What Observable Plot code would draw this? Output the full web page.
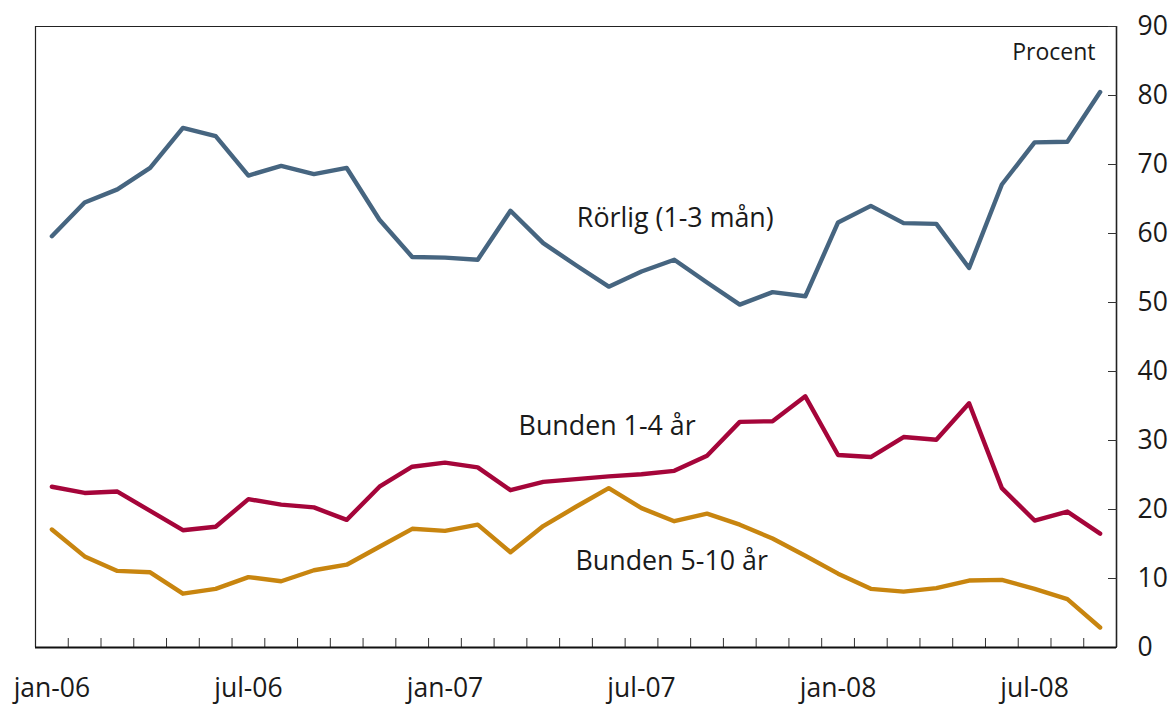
<!DOCTYPE html>
<html>
<head>
<meta charset="utf-8">
<script src="https://cdn.jsdelivr.net/npm/d3@7"></script>
<script src="https://cdn.jsdelivr.net/npm/@observablehq/plot@0.6"></script>
<style>
  html, body { margin: 0; padding: 0; background: #fff; }
  #chart { width: 1173px; height: 704px; }
</style>
</head>
<body>
<div id="chart"></div>
<script>
const months = [
  "jan-06","feb-06","mar-06","apr-06","maj-06","jun-06","jul-06","aug-06","sep-06","okt-06","nov-06","dec-06",
  "jan-07","feb-07","mar-07","apr-07","maj-07","jun-07","jul-07","aug-07","sep-07","okt-07","nov-07","dec-07",
  "jan-08","feb-08","mar-08","apr-08","maj-08","jun-08","jul-08","aug-08","sep-08"
];
const rorlig = [59.6,64.5,66.4,69.5,75.3,74.1,68.4,69.8,68.6,69.5,62.0,56.6,
                56.5,56.2,63.3,58.6,55.4,52.3,54.5,56.2,52.9,49.7,51.5,50.9,
                61.6,64.0,61.5,61.4,55.0,67.1,73.2,73.3,80.5];
const bunden14 = [23.3,22.4,22.6,19.8,17.0,17.5,21.5,20.7,20.3,18.5,23.3,26.2,
                  26.8,26.1,22.8,24.0,24.4,24.8,25.1,25.6,27.8,32.7,32.8,36.4,
                  27.9,27.6,30.5,30.1,35.4,23.1,18.4,19.7,16.5];
const bunden510 = [17.1,13.2,11.1,10.9,7.8,8.5,10.2,9.6,11.2,12.0,14.6,17.2,
                   16.9,17.8,13.8,17.6,20.4,23.1,20.2,18.3,19.4,17.8,15.8,13.3,
                   10.7,8.5,8.1,8.6,9.7,9.8,8.5,7.0,2.9];
const yTicks = [0,10,20,30,40,50,60,70,80,90];
const labelMonths = ["jan-06","jul-06","jan-07","jul-07","jan-08","jul-08"];
const seriesNames = ["Rörlig (1-3 mån)", "Bunden 1-4 år", "Bunden 5-10 år"];
const unitLabel = "Procent";

const colors = {rorlig: "#466580", b14: "#a5053a", b510: "#c8850f"};
const idx = (d, i) => i;
const n = months.length;
const boundaries = d3.range(0.5, n - 1, 1);
const labelTicks = labelMonths.map(m => months.indexOf(m));

const chart = Plot.plot({
  width: 1173,
  height: 704,
  marginLeft: 35,
  marginRight: 57,
  marginTop: 26,
  marginBottom: 57,
  style: {fontFamily: "'Open Sans', sans-serif", color: "#1a1a1a", background: "#fff"},
  x: {type: "linear", domain: [-0.5, n - 0.5]},
  y: {domain: [0, 90]},
  marks: [
    Plot.ruleX([-0.5], {stroke: "#222", strokeWidth: 1.2}),
    Plot.ruleX([n - 0.5], {stroke: "#222", strokeWidth: 1.6}),
    Plot.ruleY([90], {stroke: "#222", strokeWidth: 1.2}),
    Plot.axisX({ticks: boundaries, tickSize: -9, tickFormat: () => "", stroke: "#333"}),
    Plot.axisX({ticks: labelTicks, tickSize: 0, tickPadding: 31, tickFormat: i => months[i], fontSize: 26.5}),
    Plot.axisY({anchor: "right", ticks: yTicks, tickSize: -9, tickFormat: () => "", stroke: "#333"}),
    Plot.axisY({anchor: "right", ticks: yTicks, tickSize: 0, tickPadding: 21, fontSize: 26.5}),
    Plot.ruleY([0], {stroke: "#111", strokeWidth: 2.2}),
    Plot.lineY(bunden510, {x: idx, y: d => d, stroke: colors.b510, strokeWidth: 4.4}),
    Plot.lineY(bunden14, {x: idx, y: d => d, stroke: colors.b14, strokeWidth: 4.4}),
    Plot.lineY(rorlig, {x: idx, y: d => d, stroke: colors.rorlig, strokeWidth: 4.4}),
    Plot.text([seriesNames[0]], {x: 19.03, y: 62.2, text: d => d, fontSize: 26.8, textAnchor: "middle", lineAnchor: "middle", fill: "#1a1a1a"}),
    Plot.text([seriesNames[1]], {x: 16.95, y: 32.1, text: d => d, fontSize: 26.8, textAnchor: "middle", lineAnchor: "middle", fill: "#1a1a1a"}),
    Plot.text([seriesNames[2]], {x: 18.92, y: 12.5, text: d => d, fontSize: 26.8, textAnchor: "middle", lineAnchor: "middle", fill: "#1a1a1a"}),
    Plot.text([unitLabel], {x: 31.86, y: 86.2, text: d => d, fontSize: 23, textAnchor: "end", lineAnchor: "middle", fill: "#1a1a1a"})
  ]
});
document.getElementById("chart").appendChild(chart);
</script>
</body>
</html>
